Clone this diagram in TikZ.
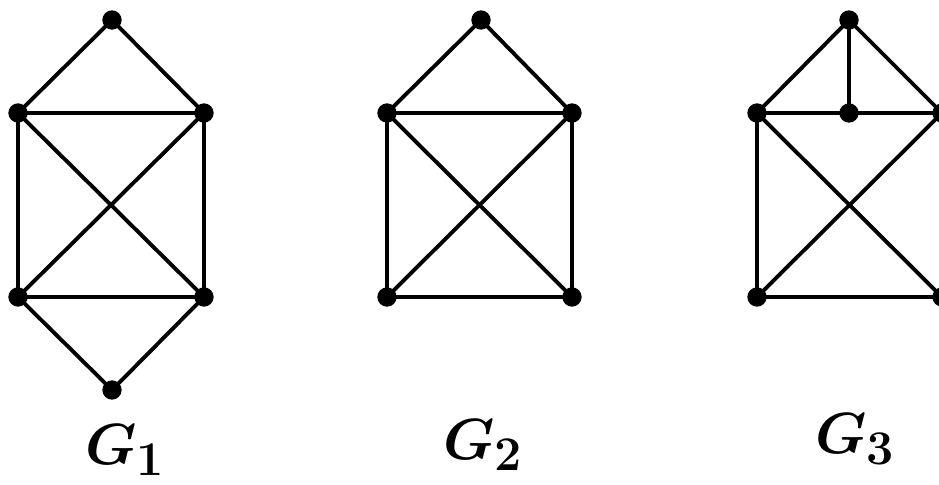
\documentclass[tikz,border=0pt]{standalone}
\usepackage{amsmath, amssymb}
\usepackage{graphicx}
\usepackage{tikz}
\usetikzlibrary{positioning}

\newcommand{\glab}[1]{\scalebox{1.75}{$\boldsymbol{G_{#1}}$}}

\begin{document}
\begin{tikzpicture}[
    x=0.75pt, y=-0.75pt,
    vertex/.style={circle, fill=black, inner sep=0pt, minimum size=14.5pt},
    edge/.style={line width=2.9pt, black},
    glabel/.style={font=\Huge}
  ]
    \useasboundingbox (0,0) rectangle (939,485);
    % G1
    \node[vertex] (a1) at (112,20)  {};
    \node[vertex] (b1) at (18,113)  {};
    \node[vertex] (c1) at (204,113) {};
    \node[vertex] (d1) at (18,297)  {};
    \node[vertex] (e1) at (204,297) {};
    \node[vertex] (f1) at (112,390) {};
    \draw[edge] (b1.center) -- (a1.center) -- (c1.center) -- (e1.center) -- (f1.center) -- (d1.center) -- (b1.center) -- (c1.center);
    \draw[edge] (b1.center) -- (e1.center);
    \draw[edge] (c1.center) -- (d1.center);
    \draw[edge] (d1.center) -- (e1.center);
    \node[glabel] (g1) at (125,450) {\glab{1}};
    % G2
    \node[vertex] (a2) at (481,20)  {};
    \node[vertex] (b2) at (387,113) {};
    \node[vertex] (c2) at (572,113) {};
    \node[vertex] (d2) at (387,297) {};
    \node[vertex] (e2) at (572,297) {};
    \draw[edge] (b2.center) -- (a2.center) -- (c2.center) -- (e2.center) -- (d2.center) -- (b2.center) -- (c2.center);
    \draw[edge] (b2.center) -- (e2.center);
    \draw[edge] (c2.center) -- (d2.center);
    \node[glabel] (g2) at (483,445) {\glab{2}};
    % G3
    \node[vertex] (a3) at (849,20)  {};
    \node[vertex] (b3) at (757,113) {};
    \node[vertex] (m3) at (849,113) {};
    \node[vertex] (c3) at (942,113) {};
    \node[vertex] (d3) at (757,297) {};
    \node[vertex] (e3) at (942,297) {};
    \draw[edge] (b3.center) -- (a3.center) -- (c3.center) -- (e3.center) -- (d3.center) -- (b3.center) -- (m3.center) -- (c3.center);
    \draw[edge] (a3.center) -- (m3.center);
    \draw[edge] (b3.center) -- (e3.center);
    \draw[edge] (c3.center) -- (d3.center);
    \node[glabel] (g3) at (855,439) {\glab{3}};
  \end{tikzpicture}
\end{document}
